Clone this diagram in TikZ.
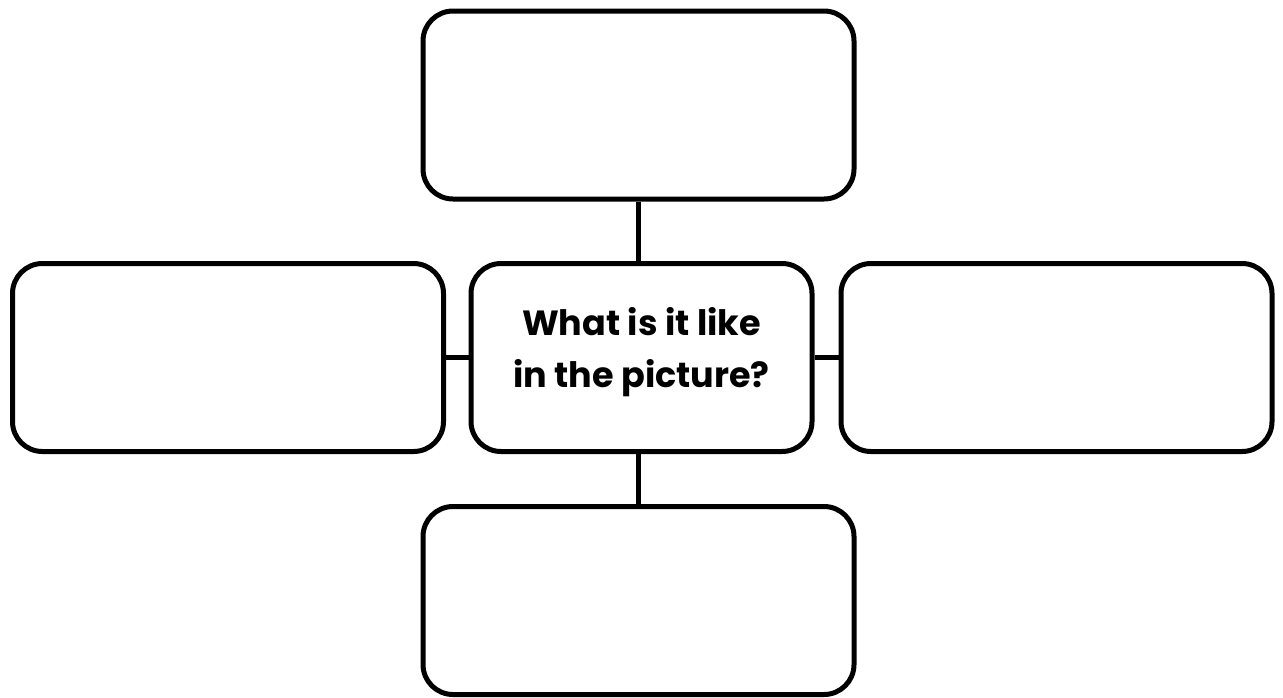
\documentclass[tikz,border=0pt]{standalone}
\usepackage{fontspec}
\setmainfont{Poppins}
\usetikzlibrary{positioning}

\tikzset{
  box/.style={draw, line width=2.5pt, rounded corners=15pt, inner sep=0pt,
    minimum width=215.5pt, minimum height=94pt},
  link/.style={line width=2.5pt}
}

\begin{document}
\begin{tikzpicture}[x=0.5pt, y=-0.5pt]
  \useasboundingbox (0,0) rectangle (1283,697);

  % Centre question
  \node[box, minimum width=170.5pt, align=center, text depth=10pt,
    font=\bfseries\fontsize{17.5}{26}\selectfont]
    (centre) at (641.5,357.5) {What is it like\\in the picture?};

  % Surrounding answer boxes
  \node[box] (top)    at (638.5,105) {};
  \node[box] (bottom) at (638.5,600.5) {};
  \node[box] (left)   at (228,357.5) {};
  \node[box] (right)  at (1056.5,357.5) {};

  % Connectors
  \draw[link] (top.south) -- (top.south |- centre.north);
  \draw[link] (bottom.north) -- (bottom.north |- centre.south);
  \draw[link] (left.east) -- (centre.west);
  \draw[link] (centre.east) -- (right.west);
\end{tikzpicture}
\end{document}
